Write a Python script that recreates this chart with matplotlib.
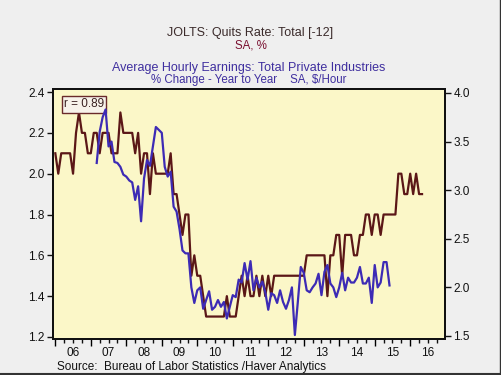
import matplotlib

matplotlib.use("Agg")
import matplotlib.pyplot as plt  # noqa: E402
from matplotlib.lines import Line2D  # noqa: E402
from matplotlib.ticker import FixedLocator, FuncFormatter  # noqa: E402

plt.rcParams["font.family"] = ["Liberation Sans", "DejaVu Sans"]

RED = "#5b1717"
BLUE = "#3d2bb5"
BG = "#efefef"
PLOT_BG = "#fbf7c8"

# JOLTS quits rate, shifted forward 12 months, monthly from Jan 2006
quits_start = 2006.0
quits = [
    2.1, 2.0, 2.1, 2.1, 2.1, 2.1, 2.0, 2.2, 2.3, 2.2, 2.2, 2.1,
    2.1, 2.2, 2.2, 2.1, 2.2, 2.2, 2.2, 2.1, 2.1, 2.1, 2.3, 2.2,
    2.2, 2.2, 2.2, 2.1, 2.2, 2.0, 2.1, 2.1, 1.9, 2.1, 2.0, 2.0,
    2.0, 2.0, 2.0, 2.1, 1.9, 1.9, 1.8, 1.7, 1.8, 1.8, 1.5, 1.6,
    1.5, 1.5, 1.4, 1.3, 1.3, 1.3, 1.3, 1.3, 1.3, 1.3, 1.4, 1.3,
    1.3, 1.3, 1.4, 1.5, 1.4, 1.5, 1.4, 1.4, 1.5, 1.4, 1.5, 1.4,
    1.5, 1.4, 1.5, 1.5, 1.5, 1.5, 1.5, 1.5, 1.5, 1.5, 1.5, 1.5,
    1.5, 1.6, 1.6, 1.6, 1.6, 1.6, 1.6, 1.6, 1.4, 1.6, 1.6, 1.7,
    1.7, 1.5, 1.7, 1.7, 1.7, 1.6, 1.6, 1.7, 1.7, 1.8, 1.8, 1.7,
    1.8, 1.8, 1.7, 1.8, 1.8, 1.8, 1.8, 1.8, 2.0, 2.0, 1.9, 1.9,
    2.0, 1.9, 2.0, 1.9, 1.9,
]

# Average hourly earnings, % change y/y, monthly from Mar 2007
ahe_start = 2006.0 + 14 / 12
ahe = [
    3.28, 3.60, 3.75, 3.83, 3.45, 3.50, 3.29, 3.28, 3.24, 3.16,
    3.14, 3.10, 3.08, 2.90, 3.04, 2.68, 3.12, 3.31, 3.25, 3.45,
    3.65, 3.62, 3.59, 3.24, 3.14, 3.19, 2.83, 2.78, 2.60, 2.38,
    2.35, 2.35, 2.00, 1.84, 1.97, 2.00, 1.78, 1.87, 1.96, 1.77,
    1.80, 1.87, 1.80, 1.85, 1.68, 1.80, 1.92, 1.90, 2.08, 2.05,
    2.25, 2.08, 2.27, 1.97, 2.10, 2.00, 2.06, 1.95, 1.77, 1.94,
    1.92, 1.84, 1.97, 1.85, 1.78, 1.87, 2.00, 1.51, 1.85, 2.21,
    2.15, 1.97, 1.95, 2.00, 2.04, 2.14, 1.92, 2.16, 2.23, 2.04,
    2.00, 1.90, 2.00, 2.15, 1.97, 2.10, 2.05, 2.05, 2.10, 2.21,
    2.04, 2.04, 2.10, 1.84, 2.23, 2.00, 2.05, 2.26, 2.26, 2.02,
]

years = list(range(2006, 2018))
left_ticks = [1.2, 1.4, 1.6, 1.8, 2.0, 2.2, 2.4]
right_ticks = [1.5, 2.0, 2.5, 3.0, 3.5, 4.0]

x_quits = [quits_start + i / 12 for i in range(len(quits))]
x_ahe = [ahe_start + i / 12 for i in range(len(ahe))]

fig = plt.figure(figsize=(5.01, 3.75), dpi=100, facecolor=BG)
ax = fig.add_axes([0.1058, 0.096, 0.7824, 0.6667])
ax.set_facecolor(PLOT_BG)
ax2 = ax.twinx()

ax.plot(x_quits, quits, color=RED, lw=1.6)
ax2.plot(x_ahe, ahe, color=BLUE, lw=1.6)

ax.set_xlim(2005.935, 2016.98)
ax.set_ylim(1.19, 2.415)
ax2.set_ylim(1.469, 4.041)

ax.set_yticks(left_ticks)
ax.set_yticklabels([f"{v:.1f}" for v in left_ticks])
ax2.set_yticks(right_ticks)
ax2.set_yticklabels([f"{v:.1f}" for v in right_ticks])

ax.xaxis.set_major_locator(FixedLocator(years))
ax.xaxis.set_major_formatter(FuncFormatter(lambda x, p: ""))
quarters = [y + q / 4 for y in years[:-1] for q in range(1, 4)]
ax.xaxis.set_minor_locator(FixedLocator(quarters))
ax.xaxis.set_minor_formatter(
    FuncFormatter(lambda x, p: f"{int(x) % 100:02d}" if abs(x % 1 - 0.5) < 0.01 else "")
)

for a in (ax, ax2):
    for s in a.spines.values():
        s.set_linewidth(1.4)
        s.set_color("#111111")
ax.tick_params(axis="x", which="major", length=5, width=1, direction="out", pad=2)
ax.tick_params(axis="x", which="minor", length=3, width=1, direction="out",
               labelsize=8.5, pad=2.5, colors="#111111")
ax.tick_params(axis="y", length=4, width=1, direction="out", labelsize=8.5, pad=2,
               colors="#111111")
ax2.tick_params(axis="y", length=4, width=1, direction="out", labelsize=8.5, pad=2,
                colors="#111111")

ax.text(0.028, 0.962, "r = 0.89", transform=ax.transAxes, fontsize=8.5, color="#3a2020",
        ha="left", va="top",
        bbox=dict(boxstyle="square,pad=0.2", facecolor="#f7f2ea", edgecolor="#6a2a2a", lw=1))

fig.text(0.5, 0.912, "JOLTS: Quits Rate: Total [-12]", ha="center", va="center",
         fontsize=9, color="#3b2b2b")
fig.text(0.5, 0.878, "SA, %", ha="center", va="center", fontsize=8.3, color="#7a1030")
fig.text(0.497, 0.82, "Average Hourly Earnings: Total Private Industries", ha="center",
         va="center", fontsize=9, color="#3f2f9f")
fig.text(0.497, 0.788, "% Change - Year to Year    SA, $/Hour", ha="center", va="center",
         fontsize=8.3, color="#3f2f9f")
fig.text(0.114, 0.022, "Source:  Bureau of Labor Statistics /Haver Analytics", ha="left",
         va="center", fontsize=8.5, color="#111111")

fig.add_artist(Line2D([0, 1], [0.004, 0.004], transform=fig.transFigure, color="#333333", lw=1.5))
fig.add_artist(Line2D([0.998, 0.998], [0, 1], transform=fig.transFigure, color="#333333", lw=1))

fig.savefig("out.png", dpi=100, facecolor=BG)
plt.close(fig)
